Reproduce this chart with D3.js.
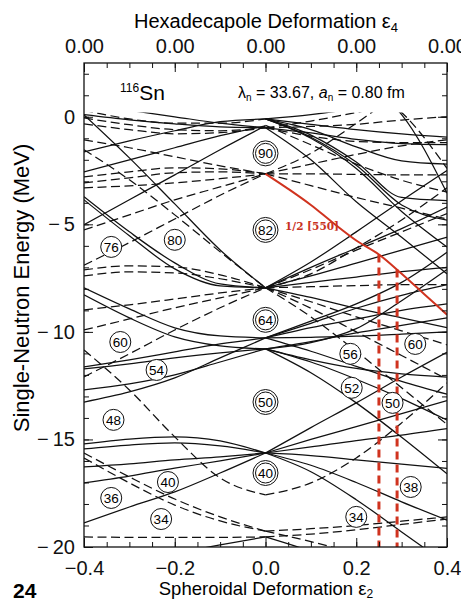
<!DOCTYPE html>
<html>
<head>
<meta charset="utf-8">
<script src="https://cdn.jsdelivr.net/npm/d3@7"></script>
<style>
  html, body { margin: 0; padding: 0; background: #fff; }
  svg { display: block; }
  text { font-family: "Liberation Sans", Arial, Helvetica, sans-serif; }
</style>
</head>
<body>
<svg id="chart" width="461" height="603"></svg>
<script>
// Nilsson-type single-neutron levels for 116Sn versus spheroidal deformation.
// Each level is split into an oblate half (eps <= 0) and a prolate half (eps >= 0).
const epsOblate  = [-0.4, -0.3, -0.2, -0.1, 0];
const epsProlate = [0, 0.1, 0.2, 0.3, 0.4];

// positive-parity levels (solid), oblate side, energies in MeV
const solidOblate = [
  [0.09, -1.91, -4.05, -6.19, -7.95],
  [-3.72, -5.35, -6.79, -7.77, -7.95],
  [-3.86, -5.53, -7.07, -7.86, -7.95],
  [-1.63, -1.12, -0.65, -0.23, -0.10],
  [-2.56, -2.00, -1.44, -0.88, -0.42],
  [-5.02, -3.86, -2.70, -1.53, -0.42],
  [-7.95, -8.93, -9.81, -10.19, -10.28],
  [-8.28, -9.35, -10.23, -10.65, -10.79],
  [-11.63, -11.30, -10.93, -10.56, -10.28],
  [-12.70, -12.42, -12.00, -11.40, -10.79],
  [-13.26, -12.79, -12.14, -11.21, -10.28],
  [-11.72, -11.49, -11.21, -10.98, -10.79],
  [-15.21, -14.98, -14.88, -15.07, -15.63],
  [-15.44, -15.26, -15.16, -15.30, -15.63],
  [-16.28, -16.14, -15.95, -15.81, -15.63],
  [-17.02, -16.70, -16.33, -16.00, -15.63],
  [-18.88, -18.14, -17.44, -16.56, -15.63],
  [-21.10, -20.70, -20.30, -19.90, -19.53],
  [0.10, -0.14, -0.33, -0.47, -0.51],
  [0.60, 0.30, 0.00, -0.30, -0.51]
];

// negative-parity levels (dashed), oblate side
const dashedOblate = [
  [-1.07, -1.44, -1.86, -2.28, -2.65],
  [-2.79, -2.56, -2.37, -2.42, -2.65],
  [-3.07, -2.84, -2.60, -2.56, -2.65],
  [-3.30, -3.21, -3.07, -2.88, -2.65],
  [-5.26, -4.56, -3.86, -3.26, -2.65],
  [-6.90, -5.85, -4.75, -3.65, -2.65],
  [-7.12, -6.93, -6.98, -7.35, -7.95],
  [-7.40, -7.21, -7.26, -7.53, -7.95],
  [-8.98, -8.74, -8.47, -8.19, -7.95],
  [-9.91, -9.40, -8.88, -8.42, -7.95],
  [-12.09, -11.02, -9.91, -8.88, -7.95],
  [-1.53, -2.93, -4.56, -6.28, -7.95],
  [-10.84, -12.70, -14.88, -16.79, -17.58],
  [-15.63, -16.74, -17.77, -18.60, -19.26],
  [-15.86, -17.02, -18.05, -18.79, -19.26],
  [-19.53, -19.55, -19.55, -19.55, -19.53],
  [-0.05, -0.37, -0.60, -0.65, -0.51],
  [-0.33, -0.60, -0.79, -0.74, -0.51],
  [0.30, -0.10, -0.30, -0.30, -0.10]
];

// positive-parity levels (solid), prolate side
const solidProlate = [
  [-0.10, -0.35, -0.60, -0.80, -0.95],
  [-0.51, -0.75, -1.05, -1.25, -1.30],
  [-0.10, -0.60, -1.40, -2.05, -2.20],
  [-0.10, -0.85, -2.10, -3.75, -3.90],
  [-0.10, -0.95, -2.25, -4.10, -4.80],
  [-0.10, -1.00, -2.40, -4.40, -6.05],
  [-0.51, -2.00, -3.95, -5.60, -7.30],
  [3.00, 2.40, 1.60, 0.10, -3.55],
  [-0.10, 0.10, 0.40, 0.80, 1.20],
  [-7.95, -6.75, -5.35, -3.90, -2.50],
  [-7.95, -7.00, -6.10, -5.20, -4.20],
  [-7.95, -7.40, -6.80, -6.20, -5.60],
  [-7.95, -7.70, -7.45, -7.20, -7.00],
  [-7.95, -8.40, -8.90, -9.35, -9.80],
  [-10.28, -9.60, -8.90, -8.30, -7.80],
  [-10.28, -9.80, -9.40, -9.00, -8.70],
  [-10.28, -10.25, -10.20, -10.10, -10.00],
  [-10.28, -9.50, -8.70, -7.70, -6.30],
  [-10.28, -10.90, -11.60, -12.30, -12.90],
  [-10.79, -11.30, -11.70, -11.95, -12.10],
  [-10.79, -10.45, -10.05, -9.70, -9.35],
  [-10.79, -10.50, -9.85, -8.55, -7.10],
  [-10.79, -11.40, -12.20, -13.10, -14.10],
  [-10.79, -11.90, -13.30, -14.90, -16.60],
  [-15.63, -14.45, -13.30, -12.10, -10.95],
  [-15.63, -15.00, -14.40, -13.80, -13.20],
  [-15.63, -15.35, -15.05, -14.80, -14.50],
  [-15.63, -15.75, -15.95, -16.15, -16.35],
  [-15.63, -16.20, -17.00, -17.90, -18.75],
  [-15.63, -16.50, -17.80, -19.30, -20.80],
  [-19.53, -20.20, -21.00, -21.80, -22.60]
];

// negative-parity levels (dashed), prolate side
const dashedProlate = [
  [-0.51, -0.45, -0.35, -0.15, 0.00],
  [-0.51, -0.90, -1.15, -1.20, -1.20],
  [-0.40, -1.30, -2.20, -2.95, -3.50],
  [3.00, 2.40, 1.50, 0.20, -2.40],
  [-0.51, -0.20, 0.20, 0.60, 1.00],
  [-2.65, -1.70, -0.30, 1.20, 2.70],
  [-2.65, -2.20, -1.75, -1.35, -1.07],
  [-2.65, -2.65, -2.68, -2.70, -2.70],
  [-2.65, -3.20, -3.75, -4.25, -4.75],
  [-7.95, -7.30, -6.10, -4.80, -3.30],
  [-7.95, -7.10, -6.20, -5.35, -4.50],
  [-7.95, -7.90, -7.85, -7.80, -7.80],
  [-7.95, -8.60, -9.30, -9.95, -10.60],
  [-7.95, -8.90, -10.00, -11.10, -12.20],
  [-7.95, -9.30, -10.90, -12.60, -14.30],
  [-17.58, -17.02, -15.86, -14.23, -12.37],
  [-19.26, -19.15, -19.00, -18.80, -18.60],
  [-19.53, -19.40, -19.20, -18.95, -18.70],
  [-19.26, -19.75, -20.30, -20.90, -21.50]
];

// highlighted 1/2[550] orbital
const orbitEps = [0, 0.05, 0.10, 0.15, 0.20, 0.25, 0.30, 0.35, 0.40];
const orbitE   = [-2.65, -3.35, -4.10, -4.95, -5.75, -6.40, -7.30, -8.25, -9.20];
const orbitName = "1/2 [550]";

// deformations marked by red dashed verticals, and where they meet the orbital
const markerEps = [0.25, 0.29];
const markerTopE = [-6.40, -7.10];

// shell-gap particle numbers: value, eps, energy, rings
const gapNumbers = [90, 82, 64, 50, 40, 76, 80, 60, 54, 48, 40, 36, 34, 56, 52, 60, 50, 38, 34];
const gapEps     = [0, 0, 0, 0, 0, -0.34, -0.20, -0.32, -0.24, -0.335, -0.215, -0.34, -0.23, 0.187, 0.19, 0.33, 0.28, 0.32, 0.20];
const gapE       = [-1.70, -5.26, -9.44, -13.26, -16.56, -6.05, -5.72, -10.47, -11.77, -14.09, -16.98, -17.72, -18.70, -11.02, -12.60, -10.56, -13.30, -17.21, -18.60];
const gapRings   = [2, 2, 2, 2, 2, 1, 1, 1, 1, 1, 1, 1, 1, 1, 1, 1, 1, 1, 1];

const xTicksMajor = [-0.4, -0.2, 0, 0.2, 0.4];
const topTickLabels = ["0.00", "0.00", "0.00", "0.00", "0.00"];
const yTicksMajor = [0, -5, -10, -15, -20];

const svg = d3.select("#chart");
const frame = { left: 84, right: 447, top: 63, bottom: 547 };
const x = d3.scaleLinear().domain([-0.4, 0.4]).range([frame.left, frame.right]);
const y = d3.scaleLinear().domain([-20, 2.5]).range([frame.bottom, frame.top]);

const signed = s => s.replace("-", "\u2212\u2009");

// clip levels to the bound region of the frame
svg.append("clipPath").attr("id", "plotClip")
  .append("rect")
  .attr("x", x(-0.4)).attr("y", y(0.2))
  .attr("width", x(0.4) - x(-0.4)).attr("height", y(-20) - y(0.2));

const plot = svg.append("g").attr("clip-path", "url(#plotClip)");

function drawLevels(epsArr, rows, dashed) {
  const line = d3.line()
    .x((d, i) => x(epsArr[i]))
    .y(d => y(d))
    .curve(d3.curveMonotoneX);
  plot.append("g")
    .selectAll("path")
    .data(rows)
    .join("path")
    .attr("d", line)
    .attr("fill", "none")
    .attr("stroke", "#111")
    .attr("stroke-width", 1.25)
    .attr("stroke-dasharray", dashed ? "9,4.5" : null);
}

drawLevels(epsOblate, solidOblate, false);
drawLevels(epsProlate, solidProlate, false);
drawLevels(epsOblate, dashedOblate, true);
drawLevels(epsProlate, dashedProlate, true);

// red orbital
plot.append("path")
  .datum(orbitE)
  .attr("d", d3.line().x((d, i) => x(orbitEps[i])).y(d => y(d)).curve(d3.curveMonotoneX))
  .attr("fill", "none")
  .attr("stroke", "#d0331f")
  .attr("stroke-width", 2);

// red dashed deformation markers
plot.append("g").selectAll("line")
  .data(markerEps)
  .join("line")
  .attr("x1", d => x(d)).attr("x2", d => x(d))
  .attr("y1", (d, i) => y(markerTopE[i])).attr("y2", y(-20))
  .attr("stroke", "#d0331f")
  .attr("stroke-width", 3)
  .attr("stroke-dasharray", "8,5");

svg.append("text")
  .attr("x", x(0.043)).attr("y", y(-5.25))
  .attr("fill", "#c8321e")
  .attr("font-weight", "bold")
  .attr("font-size", 10.5)
  .style("font-family", "'DejaVu Serif', 'Liberation Serif', serif")
  .text(orbitName);

// shell-gap labels
const gaps = svg.append("g").selectAll("g")
  .data(gapNumbers.map((n, i) => ({ n, eps: gapEps[i], e: gapE[i], rings: gapRings[i] })))
  .join("g")
  .attr("transform", d => `translate(${x(d.eps)},${y(d.e)})`);
gaps.append("circle").attr("r", d => d.rings === 2 ? 12.5 : 10.5)
  .attr("fill", "#fff").attr("stroke", "#111").attr("stroke-width", 1);
gaps.filter(d => d.rings === 2).append("circle").attr("r", 10)
  .attr("fill", "none").attr("stroke", "#111").attr("stroke-width", 1);
gaps.append("text")
  .attr("text-anchor", "middle").attr("dy", "0.36em")
  .attr("font-size", 13.5)
  .text(d => d.n);

// frame
svg.append("rect")
  .attr("x", x(-0.4)).attr("y", y(2.5))
  .attr("width", x(0.4) - x(-0.4)).attr("height", y(-20) - y(2.5))
  .attr("fill", "none").attr("stroke", "#111").attr("stroke-width", 1.3);

// axes with inward ticks
const minorX = d3.range(-8, 9).map(k => k * 0.05);
const minorY = d3.range(-20, 3).map(k => k);

function styleAxis(g) {
  g.select(".domain").remove();
  g.selectAll("line").attr("stroke", "#111").attr("stroke-width", 1);
  g.selectAll("text").attr("font-size", 20).attr("fill", "#111")
    .style("font-family", "'Liberation Sans', Arial, sans-serif");
}

svg.append("g").attr("transform", `translate(0,${y(-20)})`)
  .call(d3.axisBottom(x).tickValues(minorX).tickSize(-5).tickFormat(""))
  .call(styleAxis);
svg.append("g").attr("transform", `translate(0,${y(-20)})`)
  .call(d3.axisBottom(x).tickValues(xTicksMajor).tickSize(-9).tickPadding(14)
    .tickFormat(d => signed(d3.format(".1f")(d))))
  .call(styleAxis);

svg.append("g").attr("transform", `translate(0,${y(2.5)})`)
  .call(d3.axisTop(x).tickValues(minorX).tickSize(-5).tickFormat(""))
  .call(styleAxis);
svg.append("g").attr("transform", `translate(0,${y(2.5)})`)
  .call(d3.axisTop(x).tickValues(xTicksMajor).tickSize(-9).tickPadding(10)
    .tickFormat((d, i) => topTickLabels[i]))
  .call(styleAxis);

svg.append("g").attr("transform", `translate(${x(-0.4)},0)`)
  .call(d3.axisLeft(y).tickValues(minorY).tickSize(-5).tickFormat(""))
  .call(styleAxis);
svg.append("g").attr("transform", `translate(${x(-0.4)},0)`)
  .call(d3.axisLeft(y).tickValues(yTicksMajor).tickSize(-9).tickPadding(9)
    .tickFormat(d => signed(String(d))))
  .call(styleAxis);

svg.append("g").attr("transform", `translate(${x(0.4)},0)`)
  .call(d3.axisRight(y).tickValues(minorY).tickSize(-5).tickFormat(""))
  .call(styleAxis);
svg.append("g").attr("transform", `translate(${x(0.4)},0)`)
  .call(d3.axisRight(y).tickValues(yTicksMajor).tickSize(-9).tickFormat(""))
  .call(styleAxis);

// titles
svg.append("text").attr("x", 266).attr("y", 28).attr("text-anchor", "middle")
  .attr("font-size", 20)
  .html('Hexadecapole Deformation ε<tspan font-size="13" dy="4">4</tspan>');

svg.append("text").attr("x", 266).attr("y", 595).attr("text-anchor", "middle")
  .attr("font-size", 18.5)
  .html('Spheroidal Deformation ε<tspan font-size="12" dy="3">2</tspan>');

svg.append("text")
  .attr("transform", "translate(29,288) rotate(-90)")
  .attr("text-anchor", "middle").attr("font-size", 22)
  .text("Single-Neutron Energy (MeV)");

svg.append("text").attr("x", 13).attr("y", 598)
  .attr("font-size", 21).attr("font-weight", "bold").text("24");

svg.append("text").attr("x", 120).attr("y", 100).attr("font-size", 21)
  .html('<tspan font-size="12" dy="-8">116</tspan><tspan dy="8">Sn</tspan>');

svg.append("text").attr("x", 238).attr("y", 98).attr("font-size", 16)
  .html('λ<tspan font-size="10" dy="3">n</tspan><tspan dy="-3"> = 33.67,  </tspan><tspan font-style="italic">a</tspan><tspan font-size="10" dy="3">n</tspan><tspan dy="-3"> = 0.80 fm</tspan>');
</script>
</body>
</html>
